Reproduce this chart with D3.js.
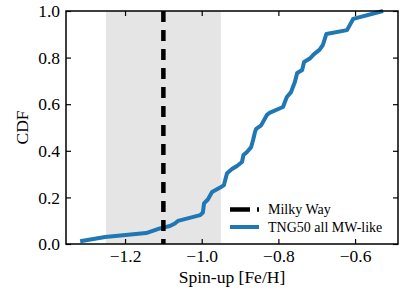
<!DOCTYPE html>
<html>
<head>
<meta charset="utf-8">
<script src="https://cdn.jsdelivr.net/npm/d3@7"></script>
<style>
  body { margin: 0; background: #fff; }
  svg text { font-family: "Liberation Serif", "DejaVu Serif", serif; fill: #000; }
</style>
</head>
<body>
<svg id="chart"></svg>
<script>
// spin-up metallicity of the TNG50 MW-like sample (sorted) and cumulative fraction
const feH = [-1.317, -1.252, -1.145, -1.109, -1.083, -1.070, -1.062, -1.004, -0.997, -0.994,
  -0.984, -0.973, -0.952, -0.942, -0.934, -0.921, -0.908, -0.895, -0.891, -0.882,
  -0.871, -0.866, -0.861, -0.858, -0.845, -0.830, -0.822, -0.788, -0.778, -0.767,
  -0.757, -0.751, -0.738, -0.733, -0.718, -0.707, -0.693, -0.684, -0.675, -0.621,
  -0.605, -0.527];
const cdf = [0.012, 0.030, 0.047, 0.067, 0.077, 0.088, 0.099, 0.124, 0.135, 0.174,
  0.191, 0.223, 0.242, 0.253, 0.304, 0.322, 0.335, 0.352, 0.382, 0.395,
  0.416, 0.446, 0.481, 0.494, 0.509, 0.554, 0.564, 0.588, 0.631, 0.652,
  0.695, 0.734, 0.747, 0.781, 0.796, 0.815, 0.833, 0.854, 0.901, 0.918,
  0.966, 1.0];

const milkyWay = -1.1;
const milkyWayRange = [-1.25, -0.95];

const xTicks = [-1.2, -1.0, -0.8, -0.6];
const yTicks = [0.0, 0.2, 0.4, 0.6, 0.8, 1.0];

const legendLabels = ["Milky Way", "TNG50 all MW-like"];

const width = 415;
const height = 303;
const margin = { top: 11, right: 17, bottom: 59, left: 66 };
const innerW = width - margin.left - margin.right;
const innerH = height - margin.top - margin.bottom;

const svg = d3.select("#chart").attr("width", width).attr("height", height);
const g = svg.append("g").attr("transform", "translate(" + margin.left + "," + margin.top + ")");

const x = d3.scaleLinear().domain([-1.354, -0.488]).range([0, innerW]);
const y = d3.scaleLinear().domain([0, 1]).range([innerH, 0]);

// shaded observational range
g.append("rect")
  .attr("x", x(milkyWayRange[0]))
  .attr("y", 0)
  .attr("width", x(milkyWayRange[1]) - x(milkyWayRange[0]))
  .attr("height", innerH)
  .attr("fill", "#e5e5e5");

const line = d3.line()
  .x(function (d, i) { return x(feH[i]); })
  .y(function (d) { return y(d); });

g.append("path")
  .datum(cdf)
  .attr("d", line)
  .attr("fill", "none")
  .attr("stroke", "#1f77b4")
  .attr("stroke-width", 4)
  .attr("stroke-linejoin", "round");

g.append("line")
  .attr("x1", x(milkyWay))
  .attr("x2", x(milkyWay))
  .attr("y1", 0)
  .attr("y2", innerH)
  .attr("stroke", "#000")
  .attr("stroke-width", 4.5)
  .attr("stroke-dasharray", "11,8");

// axes, ticks inward on all four sides
const fontSize = "17.5px";
function styleAxis(axis) {
  axis.select(".domain").remove();
  axis.selectAll(".tick line").attr("stroke", "#000").attr("stroke-width", 1.2);
  axis.selectAll("text").style("font-size", fontSize);
}

const fmt = d3.format(".1f");
const xAxis = g.append("g")
  .attr("transform", "translate(0," + innerH + ")")
  .call(d3.axisBottom(x).tickValues(xTicks).tickSize(-5).tickPadding(6).tickFormat(fmt));
styleAxis(xAxis);

const xTop = g.append("g")
  .call(d3.axisTop(x).tickValues(xTicks).tickSize(-5).tickFormat(""));
styleAxis(xTop);

const yAxis = g.append("g")
  .call(d3.axisLeft(y).tickValues(yTicks).tickSize(-5).tickPadding(6).tickFormat(fmt));
styleAxis(yAxis);

const yRight = g.append("g")
  .attr("transform", "translate(" + innerW + ",0)")
  .call(d3.axisRight(y).tickValues(yTicks).tickSize(-5).tickFormat(""));
styleAxis(yRight);

g.append("rect")
  .attr("width", innerW)
  .attr("height", innerH)
  .attr("fill", "none")
  .attr("stroke", "#000")
  .attr("stroke-width", 1.5);

// axis titles
svg.append("text")
  .attr("x", margin.left + innerW / 2)
  .attr("y", 283)
  .attr("text-anchor", "middle")
  .style("font-size", fontSize)
  .text("Spin-up [Fe/H]");

svg.append("text")
  .attr("transform", "translate(28," + (margin.top + innerH / 2) + ") rotate(-90)")
  .attr("text-anchor", "middle")
  .style("font-size", fontSize)
  .text("CDF");

// legend
const legend = svg.append("g");
const rowY = [209.5, 227];
legend.append("line")
  .attr("x1", 230).attr("x2", 259)
  .attr("y1", rowY[0]).attr("y2", rowY[0])
  .attr("stroke", "#000")
  .attr("stroke-width", 4.5)
  .attr("stroke-dasharray", "20,7");
legend.append("line")
  .attr("x1", 230).attr("x2", 259)
  .attr("y1", rowY[1]).attr("y2", rowY[1])
  .attr("stroke", "#1f77b4")
  .attr("stroke-width", 4);
legend.selectAll(".label")
  .data(legendLabels)
  .enter()
  .append("text")
  .attr("class", "label")
  .attr("x", 268)
  .attr("y", function (d, i) { return rowY[i]; })
  .attr("dy", "0.35em")
  .style("font-size", "14px")
  .text(function (d) { return d; });
</script>
</body>
</html>
